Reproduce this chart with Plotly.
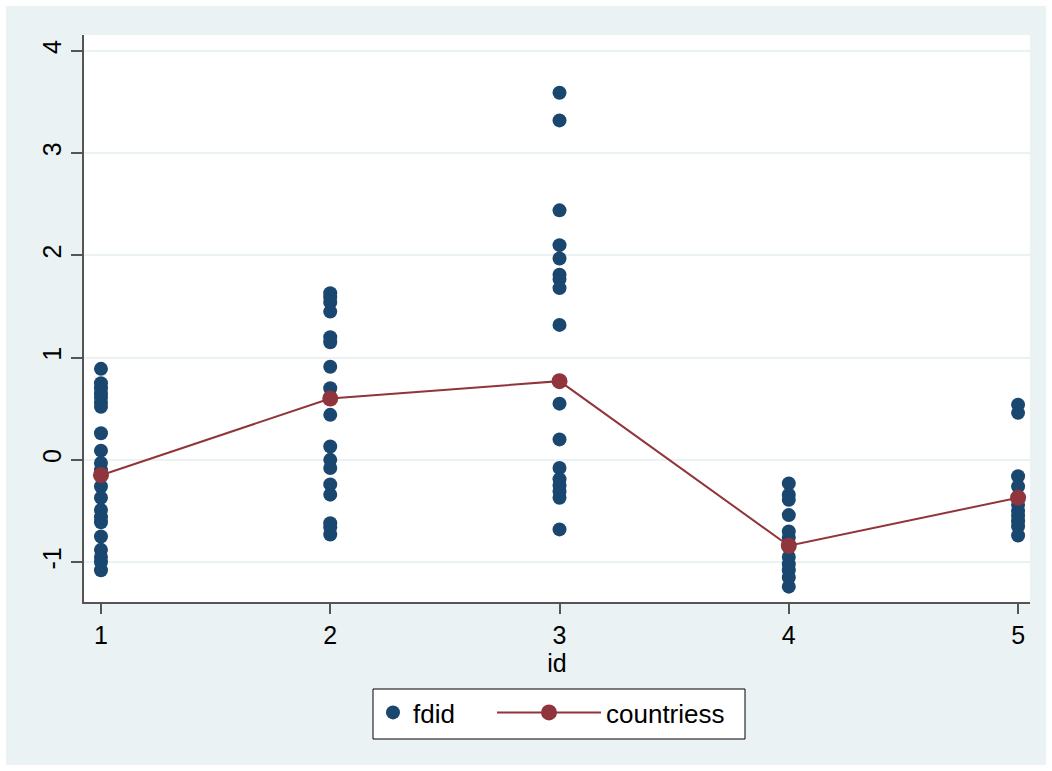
import plotly.graph_objects as go

# Group ids on the x axis
ids = [1, 2, 3, 4, 5]

# fdid observations within each id group
fdid_1 = [0.89, 0.75, 0.70, 0.65, 0.61, 0.56, 0.52, 0.26, 0.09, -0.03, -0.10, -0.15,
          -0.26, -0.37, -0.49, -0.56, -0.61, -0.75, -0.88, -0.95, -1.00, -1.08]
fdid_2 = [1.63, 1.59, 1.54, 1.45, 1.20, 1.15, 0.91, 0.70, 0.61, 0.44, 0.13, 0.00,
          -0.08, -0.24, -0.34, -0.62, -0.66, -0.73]
fdid_3 = [3.59, 3.32, 2.44, 2.10, 1.97, 1.81, 1.77, 1.68, 1.32, 0.77, 0.55, 0.20,
          -0.08, -0.19, -0.25, -0.31, -0.37, -0.68]
fdid_4 = [-0.23, -0.34, -0.39, -0.54, -0.70, -0.76, -0.84, -0.95, -1.02, -1.08,
          -1.15, -1.24]
fdid_5 = [0.54, 0.46, -0.16, -0.26, -0.37, -0.44, -0.50, -0.55, -0.60, -0.65, -0.74]

# Group means
countriess = [-0.15, 0.60, 0.77, -0.84, -0.37]

y_ticks = [-1, 0, 1, 2, 3, 4]

NAVY = "#1a476f"
MAROON = "#90353b"
BG = "#eaf2f3"
FONT = "Liberation Sans, Arial, sans-serif"

# Plot area in pixels: used to express outer boxes in paper units
PLOT_L, PLOT_R, PLOT_T, PLOT_B = 84, 1030, 35, 602
PW, PH = PLOT_R - PLOT_L, PLOT_B - PLOT_T


def px_x(px):
    return (px - PLOT_L) / PW


def px_y(py):
    return (PLOT_B - py) / PH


groups = [fdid_1, fdid_2, fdid_3, fdid_4, fdid_5]
xs, ys = [], []
for gid, vals in zip(ids, groups):
    xs += [gid] * len(vals)
    ys += vals

fig = go.Figure()
fig.add_trace(go.Scatter(
    x=xs, y=ys, mode="markers", name="fdid", legend="legend",
    marker=dict(color=NAVY, size=14, line=dict(width=0)),
))
fig.add_trace(go.Scatter(
    x=ids, y=countriess, mode="lines+markers", name="countriess", legend="legend2",
    line=dict(color=MAROON, width=2),
    marker=dict(color=MAROON, size=16, line=dict(width=0)),
))

axis_line = "#555555"
legend_top = px_y(689)
fig.update_layout(
    width=1052, height=771,
    margin=dict(l=PLOT_L, r=1052 - PLOT_R, t=PLOT_T, b=771 - PLOT_B),
    paper_bgcolor="white",
    plot_bgcolor="white",
    font=dict(family=FONT, color="black", size=25),
    showlegend=True,
    legend=dict(
        orientation="h", x=px_x(373), xanchor="left", y=legend_top, yanchor="top",
        bgcolor="rgba(0,0,0,0)", borderwidth=0,
        font=dict(size=26, family=FONT), itemwidth=30,
    ),
    legend2=dict(
        orientation="h", x=px_x(492), xanchor="left", y=legend_top, yanchor="top",
        bgcolor="rgba(0,0,0,0)", borderwidth=0,
        font=dict(size=26, family=FONT), itemwidth=104,
    ),
    xaxis=dict(
        range=[0.926, 5.052], tickvals=ids, ticktext=[str(i) for i in ids],
        showgrid=False, zeroline=False,
        showline=True, linecolor=axis_line, linewidth=2,
        ticks="outside", ticklen=10, tickwidth=1.5, tickcolor=axis_line,
        tickfont=dict(size=25),
        title=dict(text="id", font=dict(size=25), standoff=0),
    ),
    yaxis=dict(
        range=[-1.39, 4.155], tickvals=y_ticks, ticktext=[str(v) for v in y_ticks],
        showgrid=True, gridcolor=BG, gridwidth=2,
        zeroline=False,
        showline=True, linecolor=axis_line, linewidth=2,
        ticks="outside", ticklen=11, tickwidth=1.5, tickcolor=axis_line,
        tickangle=-90, tickfont=dict(size=25),
    ),
    shapes=[
        # outer graph region
        dict(type="rect", xref="paper", yref="paper", layer="below",
             x0=px_x(6), x1=px_x(1046), y0=px_y(765), y1=px_y(6),
             fillcolor=BG, line=dict(width=0)),
        # plot region
        dict(type="rect", xref="paper", yref="paper", layer="below",
             x0=0, x1=1, y0=0, y1=1, fillcolor="white", line=dict(width=0)),
        # legend frame
        dict(type="rect", xref="paper", yref="paper", layer="below",
             x0=px_x(373), x1=px_x(745), y0=px_y(739), y1=px_y(689),
             fillcolor="white", line=dict(color="black", width=1)),
    ],
)

fig.write_html("out.html")
